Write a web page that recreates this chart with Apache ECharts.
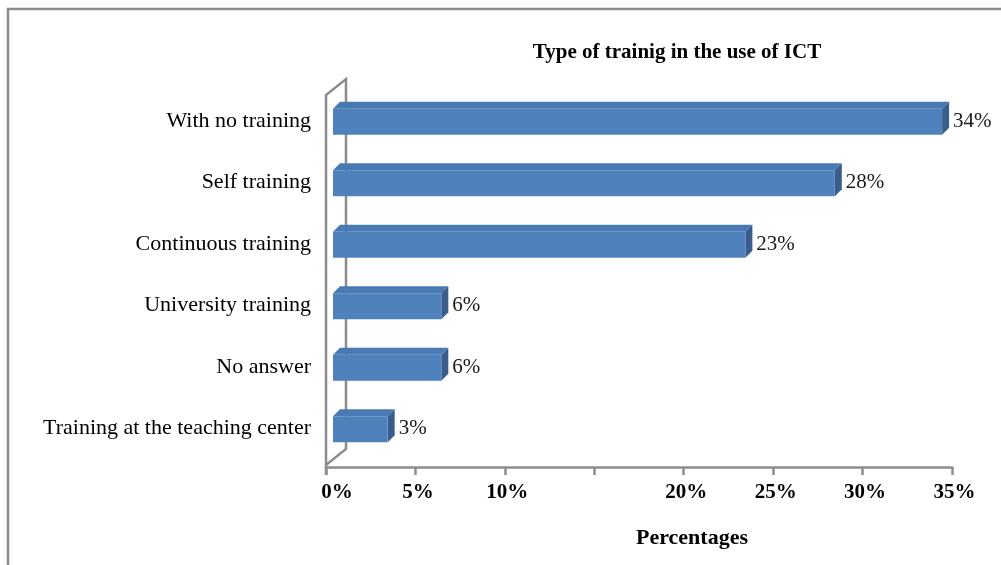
<!DOCTYPE html>
<html>
<head>
<meta charset="utf-8">
<script src="https://cdn.jsdelivr.net/npm/echarts@6/dist/echarts.min.js"></script>
<style>
  html, body { margin: 0; padding: 0; background: #ffffff; }
  #chart { width: 1001px; height: 565px; }
</style>
</head>
<body>
<div id="chart"></div>
<script>
// Training categories, top to bottom
const categories = [
  'With no training',
  'Self training',
  'Continuous training',
  'University training',
  'No answer',
  'Training at the teaching center'
];
// Share of respondents (%)
const percentages = [34, 28, 23, 6, 6, 3];
// Axis range and tick step (%)
const axisMin = 0;
const axisMax = 35;
const axisStep = 5;
// Tick values left without a label
const unlabeledTicks = [15];

const SERIF = '"Liberation Serif", "Times New Roman", serif';
const FRONT = '#4F81BD';
const TOP = '#4A7AB4';
const SIDE = '#385D8A';
const WALL = '#8C8C8C';

// Bar depth offsets for the pseudo-3D look
const BAR_SHIFT = 7;   // front face offset from the wall plane
const BAR_DEPTH = 7;   // thickness of the top/side faces
const WALL_DX = 20, WALL_DY = -16;

const chart = echarts.init(document.getElementById('chart'), null, { renderer: 'canvas' });

function renderBar(params, api) {
  const v = api.value(0);
  const idx = api.value(1);
  const p0 = api.coord([0, idx]);
  const p1 = api.coord([v, idx]);
  const band = api.size([0, 1])[1];
  const h = band * 0.42;
  const xl = p0[0] + BAR_SHIFT;
  const xr = p1[0] + BAR_SHIFT + 1;
  const yt = p0[1] - h / 2 + 1;
  const yb = p0[1] + h / 2 + 1;
  const d = BAR_DEPTH;
  return {
    type: 'group',
    children: [
      {
        type: 'polygon',
        shape: { points: [[xl, yt], [xr, yt], [xr + d, yt - d], [xl + d, yt - d]] },
        style: { fill: TOP }
      },
      {
        type: 'polygon',
        shape: { points: [[xr, yt], [xr + d, yt - d], [xr + d, yb - d], [xr, yb]] },
        style: { fill: SIDE }
      },
      {
        type: 'rect',
        shape: { x: xl, y: yt, width: xr - xl, height: h },
        style: { fill: FRONT }
      },
      {
        type: 'text',
        style: {
          text: v + '%',
          x: xr + d + 4,
          y: (yt + yb) / 2 - d / 2 + 3,
          verticalAlign: 'middle',
          fill: '#1a1a1a',
          font: '21px ' + SERIF
        }
      }
    ]
  };
}

function renderWall(params) {
  const cs = params.coordSys;
  const x = cs.x;
  const top = cs.y + 5;
  const bottom = cs.y + cs.height + 6;
  const lineStyle = { stroke: WALL, lineWidth: 2.5, fill: null };
  return {
    type: 'group',
    silent: true,
    children: [
      { type: 'polyline', shape: { points: [[x, cs.y + cs.height + 16], [x, top], [x + WALL_DX, top + WALL_DY], [x + WALL_DX, bottom + WALL_DY], [x, bottom]] }, style: lineStyle }
    ]
  };
}

chart.setOption({
  animation: false,
  textStyle: { fontFamily: SERIF },
  title: [
    {
      text: 'Type of trainig in the use of ICT',
      left: 672,
      top: 37,
      textAlign: 'center',
      textStyle: { fontFamily: SERIF, fontWeight: 'bold', fontSize: 21, color: '#000' }
    },
    {
      text: 'Percentages',
      left: 687,
      top: 522,
      textAlign: 'center',
      textStyle: { fontFamily: SERIF, fontWeight: 'bold', fontSize: 22, color: '#000' }
    }
  ],
  graphic: [
    {
      type: 'rect',
      silent: true,
      shape: { x: 8, y: 9, width: 1100, height: 700 },
      style: { fill: null, stroke: '#8C8C8C', lineWidth: 2.5 }
    }
  ],
  grid: { left: 326, right: 49, top: 90, bottom: 106, containLabel: false },
  xAxis: {
    type: 'value',
    min: axisMin,
    max: axisMax,
    interval: axisStep,
    offset: 8,
    splitLine: { show: false },
    axisLine: { show: true, lineStyle: { color: WALL, width: 2.5 } },
    axisTick: { show: true, length: 8, lineStyle: { color: WALL, width: 2.5 } },
    axisLabel: {
      margin: 15,
      formatter: function (v) {
        if (unlabeledTicks.indexOf(v) >= 0) return '';
        return v === 0 ? '{z|' + v + '%}' : '{n|' + v + '%}';
      },
      rich: {
        z: { fontFamily: SERIF, fontWeight: 'bold', fontSize: 21, color: '#000', padding: [0, 0, 0, 22] },
        n: { fontFamily: SERIF, fontWeight: 'bold', fontSize: 21, color: '#000', padding: [0, 0, 0, 5] }
      }
    }
  },
  yAxis: {
    type: 'category',
    data: categories,
    inverse: true,
    axisLine: { show: false },
    axisTick: { show: false },
    axisLabel: { margin: 15, fontFamily: SERIF, fontSize: 22, color: '#000', padding: [4, 0, 0, 0] }
  },
  series: [
    {
      type: 'custom',
      name: 'wall',
      silent: true,
      clip: false,
      renderItem: renderWall,
      data: [[0, 0]],
      encode: { x: 0, y: 1 },
      z: 1
    },
    {
      type: 'custom',
      name: 'Percentages',
      clip: false,
      renderItem: renderBar,
      data: percentages.map(function (v, i) { return [v, i]; }),
      encode: { x: 0, y: 1 },
      z: 2
    }
  ]
});
</script>
</body>
</html>
